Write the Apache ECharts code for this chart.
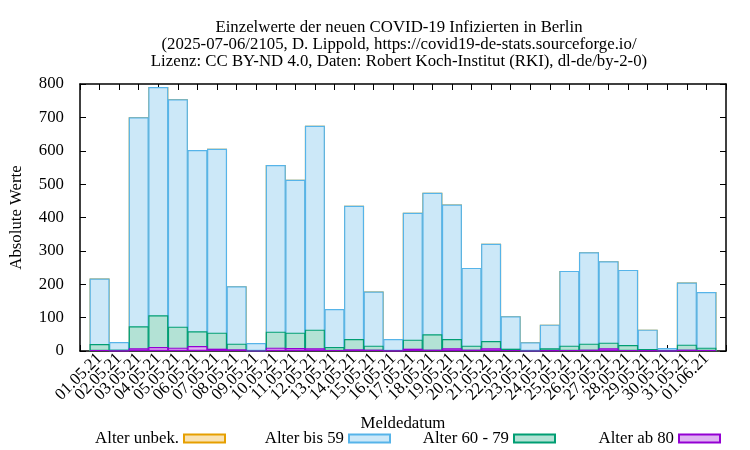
<!DOCTYPE html>
<html>
<head>
<meta charset="utf-8">
<script src="https://cdn.jsdelivr.net/npm/echarts@6/dist/echarts.min.js"></script>
<style>
html,body{margin:0;padding:0;background:#fff;}
#c{width:750px;height:450px;}
</style>
</head>
<body>
<div id="c"></div>
<script>
var dates = ["01.05.21","02.05.21","03.05.21","04.05.21","05.05.21","06.05.21","07.05.21","08.05.21","09.05.21","10.05.21","11.05.21","12.05.21","13.05.21","14.05.21","15.05.21","16.05.21","17.05.21","18.05.21","19.05.21","20.05.21","21.05.21","22.05.21","23.05.21","24.05.21","25.05.21","26.05.21","27.05.21","28.05.21","29.05.21","30.05.21","31.05.21","01.06.21"];
// drawn bar heights (overlaid, cumulative as in the original)
var alterUnbek = [217,27,700,791,754,602,606,194,24,557,513,675,126,435,178,36,414,474,439,249,321,104,26,79,240,296,269,243,64,9,205,177];
var alterBis59 = [217,27,700,791,754,602,606,194,24,557,513,675,126,435,178,36,414,474,439,249,321,104,26,79,240,296,269,243,64,9,205,177];
var alter6079  = [21,4,74,107,73,59,55,22,1,58,55,64,12,36,16,3,34,50,36,16,30,7,1,8,16,22,25,18,6,2,19,10];
var alterAb80  = [3,1,8,12,10,15,7,5,0,10,9,8,3,5,4,1,7,4,8,4,8,3,0,2,3,4,8,3,2,1,4,3];
var yTicks = [0,100,200,300,400,500,600,700,800];

var names = ["Alter unbek.","Alter bis 59","Alter 60 - 79","Alter ab 80"];
var fills = ["#f9e2b3","#cce8f8","#b3e2d5","#dfb3f2"];
var borders = ["#e69f00","#56b4e9","#009e73","#9400d3"];
var values = [alterUnbek, alterBis59, alter6079, alterAb80];

var FONT = "Liberation Serif, Times New Roman, serif";
var FS = 16.8;

function pairs(arr){ return arr.map(function(v,i){ return [i,v]; }); }

var series = names.map(function(n,k){
  return {
    name: n, type: 'bar', barWidth: 20, barGap: '-100%',
    data: pairs(values[k]),
    itemStyle: {color: fills[k], borderColor: borders[k], borderWidth: 1.2},
    emphasis: {disabled: true},
    animation: false, z: 2 + k
  };
});

var legendRight = [519, 354, 189, 24];
var legends = names.map(function(n,k){
  return {
    data: [n], right: legendRight[k], top: 425, align: 'right', icon: 'rect',
    itemWidth: 41, itemHeight: 8, itemGap: 0,
    textStyle: {fontFamily: FONT, fontSize: FS, color: '#000'},
    selectedMode: false
  };
});

var axisLine = {show: true, onZero: false, lineStyle: {color: '#000', width: 1.5}};
var tick = {show: true, inside: true, length: 6, lineStyle: {color: '#000', width: 1}};

var chart = echarts.init(document.getElementById('c'), null, {renderer: 'canvas'});
chart.setOption({
  animation: false,
  backgroundColor: '#fff',
  title: {
    text: 'Einzelwerte der neuen COVID-19 Infizierten in Berlin\n(2025-07-06/2105, D. Lippold, https://covid19-de-stats.sourceforge.io/\nLizenz: CC BY-ND 4.0, Daten: Robert Koch-Institut (RKI), dl-de/by-2-0)',
    left: 394, top: 14, textAlign: 'center',
    textStyle: {fontFamily: FONT, fontSize: FS, fontWeight: 'normal', color: '#000', lineHeight: 17}
  },
  legend: legends,
  grid: {left: 72, right: 24, top: 84, bottom: 99, containLabel: false},
  xAxis: [
    {type: 'value', min: -1, max: 32, interval: 1, position: 'bottom',
     name: 'Meldedatum', nameLocation: 'middle', nameGap: 64,
     nameTextStyle: {fontFamily: FONT, fontSize: FS, color: '#000'},
     axisLine: axisLine, axisTick: tick, splitLine: {show: false},
     axisLabel: {rotate: 45, margin: 5, fontFamily: FONT, fontSize: FS, color: '#000',
       formatter: function(v){ return dates[v] || ''; }}},
    {type: 'value', min: -1, max: 32, interval: 1, position: 'top',
     axisLine: axisLine, axisTick: tick, splitLine: {show: false}, axisLabel: {show: false}}
  ],
  yAxis: [
    {type: 'value', min: 0, max: 800, interval: 100, position: 'left',
     name: 'Absolute Werte', nameLocation: 'middle', nameGap: 55, nameRotate: 90,
     nameTextStyle: {fontFamily: FONT, fontSize: FS, color: '#000'},
     axisLine: axisLine, axisTick: tick, splitLine: {show: false},
     axisLabel: {margin: 16, fontFamily: FONT, fontSize: FS, color: '#000',
       formatter: function(v){ return yTicks.indexOf(v) >= 0 ? String(v) : ''; }}},
    {type: 'value', min: 0, max: 800, interval: 100, position: 'right',
     axisLine: axisLine, axisTick: tick, splitLine: {show: false}, axisLabel: {show: false}}
  ],
  series: series
});
</script>
</body>
</html>
